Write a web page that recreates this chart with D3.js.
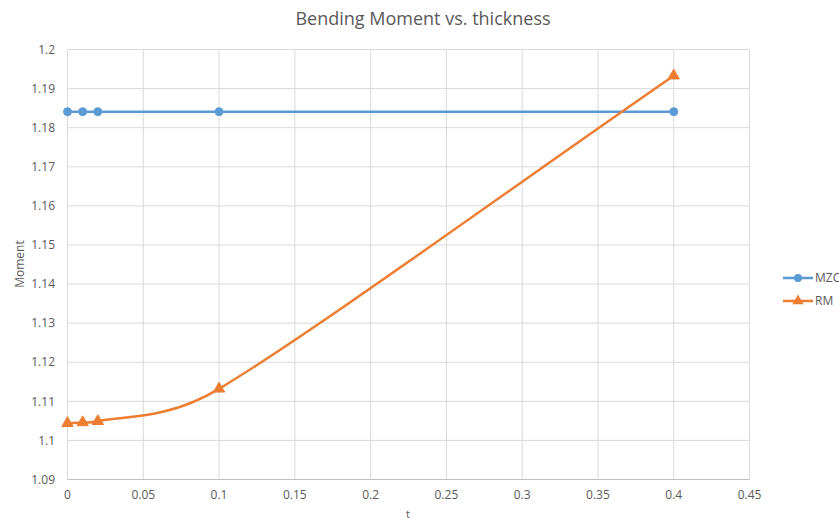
<!DOCTYPE html>
<html><head><meta charset="utf-8">
<script src="https://cdn.jsdelivr.net/npm/d3@7"></script>
<style>body{margin:0;background:#fff}svg{display:block;font-family:"Open Sans",Calibri,sans-serif}</style>
</head><body>
<svg id="c" width="839" height="521"></svg>
<script>
const tValues = [0, 0.01, 0.02, 0.1, 0.4];
const mzc = [1.1841, 1.1841, 1.1841, 1.1841, 1.1841];
const rm = [1.1044, 1.1046, 1.1049, 1.1132, 1.1933];
const xTicks = [0, 0.05, 0.1, 0.15, 0.2, 0.25, 0.3, 0.35, 0.4, 0.45];
const yTicks = [1.09, 1.1, 1.11, 1.12, 1.13, 1.14, 1.15, 1.16, 1.17, 1.18, 1.19, 1.2];
const seriesNames = ["MZC", "RM"];
const colors = ["#5b9bd5", "#ed7d31"];

const svg = d3.select("#c");
const x = d3.scaleLinear().domain([0, 0.45]).range([67.5, 749.5]);
const y = d3.scaleLinear().domain([1.09, 1.2]).range([479.5, 49.5]);
const txt = "#595959";

svg.append("g").selectAll("line").data(yTicks).join("line")
  .attr("x1", x(0)).attr("x2", x(0.45)).attr("y1", d => y(d)).attr("y2", d => y(d))
  .attr("stroke", "#d9d9d9").attr("stroke-width", 1);
svg.append("g").selectAll("line").data(xTicks).join("line")
  .attr("y1", y(1.09)).attr("y2", y(1.2)).attr("x1", d => x(d)).attr("x2", d => x(d))
  .attr("stroke", "#d9d9d9").attr("stroke-width", 1);
svg.append("line").attr("x1", x(0)).attr("x2", x(0.45)).attr("y1", y(1.09)).attr("y2", y(1.09))
  .attr("stroke", "#bfbfbf").attr("stroke-width", 1);

svg.append("g").selectAll("text").data(yTicks).join("text")
  .attr("x", 55).attr("y", d => y(d)).attr("dy", "0.35em").attr("text-anchor", "end")
  .attr("font-size", 12).attr("fill", txt).text(d => String(+d.toFixed(2)));
svg.append("g").selectAll("text").data(xTicks).join("text")
  .attr("x", d => x(d)).attr("y", 499).attr("text-anchor", "middle")
  .attr("font-size", 12).attr("fill", txt).text(d => String(+d.toFixed(2)));

svg.append("text").attr("x", 423).attr("y", 25).attr("text-anchor", "middle")
  .attr("font-size", 18).attr("fill", txt).text("Bending Moment vs. thickness");
svg.append("text").attr("x", 408).attr("y", 518).attr("text-anchor", "middle")
  .attr("font-size", 11).attr("fill", txt).text("t");
svg.append("text").attr("transform", "translate(24,264) rotate(-90)").attr("text-anchor", "middle")
  .attr("font-size", 12).attr("fill", txt).text("Moment");

// Excel-like smoothed line: Catmull-Rom tangents (1/6), control arm clamped to half the segment
function smoothPath(pts) {
  const p = d3.path();
  const n = pts.length;
  const dist = (a, b) => Math.hypot(b[0] - a[0], b[1] - a[1]);
  p.moveTo(pts[0][0], pts[0][1]);
  for (let i = 0; i < n - 1; i++) {
    const p0 = pts[Math.max(0, i - 1)], p1 = pts[i], p2 = pts[i + 1], p3 = pts[Math.min(n - 1, i + 2)];
    const d12 = dist(p1, p2);
    const fa = i === 0 ? 1 / 3 : 1 / 6;
    const fb = i + 2 > n - 1 ? 1 / 3 : 1 / 6;
    let v1 = [(p2[0] - p0[0]) * fa, (p2[1] - p0[1]) * fa];
    let v2 = [(p3[0] - p1[0]) * fb, (p3[1] - p1[1]) * fb];
    const l1 = Math.hypot(v1[0], v1[1]), l2 = Math.hypot(v2[0], v2[1]);
    if (l1 > d12 / 2) v1 = v1.map(v => v * (d12 / 2) / l1);
    if (l2 > d12 / 2) v2 = v2.map(v => v * (d12 / 2) / l2);
    p.bezierCurveTo(p1[0] + v1[0], p1[1] + v1[1], p2[0] - v2[0], p2[1] - v2[1], p2[0], p2[1]);
  }
  return p.toString();
}

const series = [mzc, rm];
series.forEach((vals, i) => {
  const pts = tValues.map((t, j) => [t, vals[j]]);
  const px = pts.map(d => [x(d[0]), y(d[1])]);
  svg.append("path").attr("d", smoothPath(px)).attr("fill", "none")
    .attr("stroke", colors[i]).attr("stroke-width", 2.5).attr("stroke-linecap", "round");
  const sym = d3.symbol().type(i === 0 ? d3.symbolCircle : d3.symbolTriangle).size(i === 0 ? 50 : 55);
  svg.append("g").selectAll("path").data(pts).join("path")
    .attr("d", sym).attr("transform", d => `translate(${x(d[0])},${y(d[1])})`)
    .attr("fill", colors[i]).attr("stroke", colors[i]).attr("stroke-width", 1);
});

const lg = svg.append("g");
seriesNames.forEach((n, i) => {
  const yy = 278 + i * 23;
  lg.append("line").attr("x1", 783).attr("x2", 813).attr("y1", yy).attr("y2", yy)
    .attr("stroke", colors[i]).attr("stroke-width", 2.5);
  lg.append("path").attr("d", d3.symbol().type(i === 0 ? d3.symbolCircle : d3.symbolTriangle).size(i === 0 ? 50 : 55))
    .attr("transform", `translate(798,${yy})`).attr("fill", colors[i]);
  lg.append("text").attr("x", 815).attr("y", yy).attr("dy", "0.35em").attr("font-size", 12)
    .attr("fill", txt).text(n);
});
</script>
</body></html>
